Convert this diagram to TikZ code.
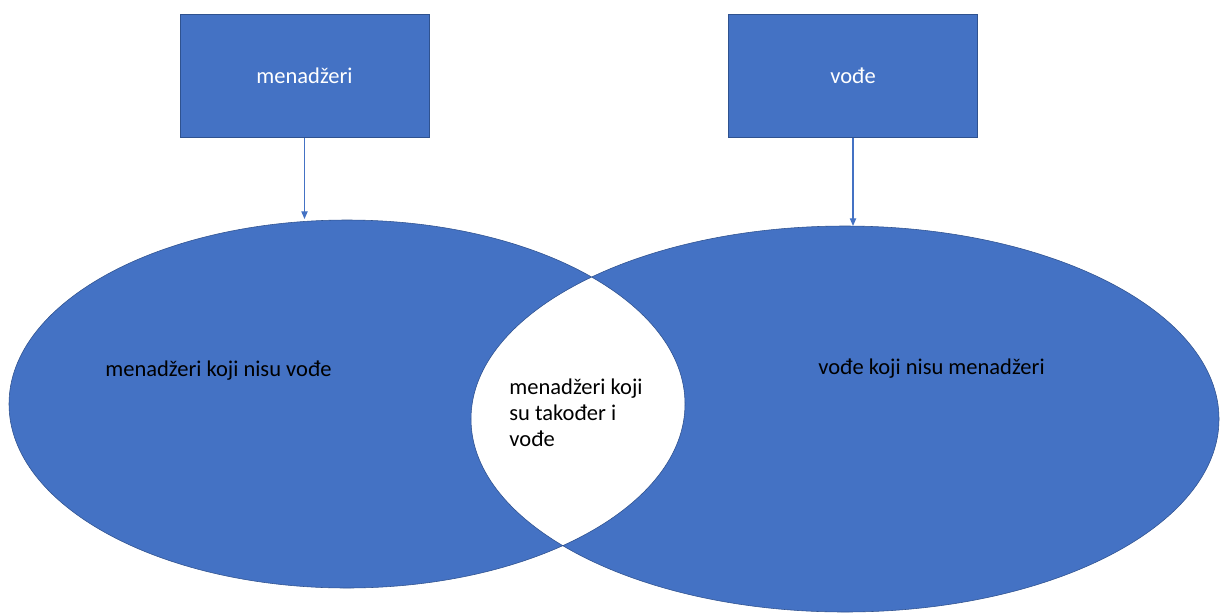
\documentclass[tikz,border=0pt]{standalone}
\usepackage{fontspec}
\setmainfont{Carlito}
\usetikzlibrary{arrows.meta}
\definecolor{setblue}{HTML}{4472C4}
\definecolor{edgeblue}{HTML}{2F528F}
\tikzset{
  groupbox/.style={rectangle,fill=setblue,draw=edgeblue,line width=0.4pt,
    minimum width=6.225cm,minimum height=3.075cm,text=white,
    font=\fontsize{16}{19}\selectfont},
  setlabel/.style={text=black,font=\fontsize{16}{18.5}\selectfont,inner sep=0pt},
}
\begin{document}
\begin{tikzpicture}[x=0.025cm,y=-0.025cm]
  \useasboundingbox (0,0) rectangle (1220,613);
  \fill[setblue,even odd rule,draw=edgeblue,line width=0.4pt]
    (347,404) ellipse (338 and 184)
    (845,419) ellipse (374 and 193);
  \node[groupbox] (m) at (304.5,76) {menadžeri};
  \node[groupbox] (v) at (853,76) {vođe};
  \coordinate (mtop) at (304.5,219);
  \coordinate (vtop) at (853,226);
  \node[setlabel] (monly) at (218.5,371) {menadžeri koji nisu vođe};
  \node[setlabel] (vonly) at (931.5,369) {vođe koji nisu menadžeri};
  \node[setlabel,align=left] (both) at (576,413) {menadžeri koji\\su također i\\vođe};
  \begin{scope}[setblue,line width=0.9pt,-{Triangle[length=5.5pt,width=4.5pt]}]
    \draw (m) to (mtop);
    \draw (v) to (vtop);
  \end{scope}
\end{tikzpicture}
\end{document}
